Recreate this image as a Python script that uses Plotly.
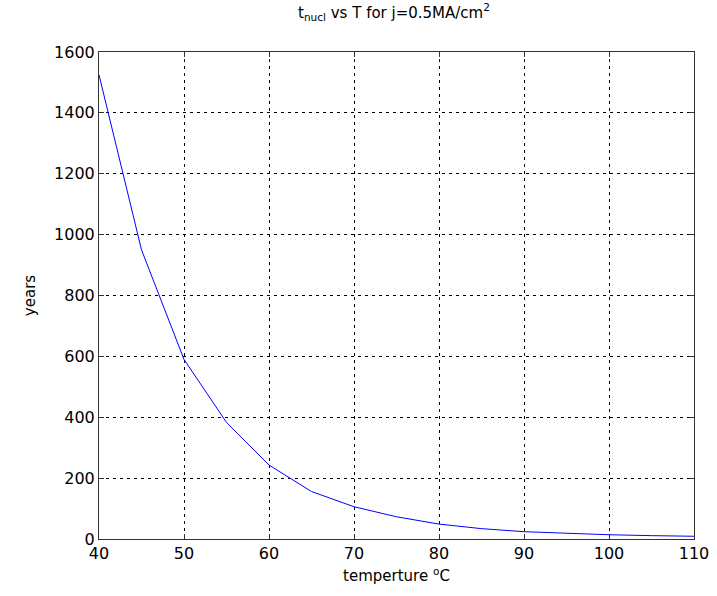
import plotly.graph_objects as go

temperature = [40, 45, 50, 55, 60, 65, 70, 75, 80, 85, 90, 95, 100, 105, 110]
years = [1525, 950, 590, 383, 243, 156, 106, 73, 49, 34, 24, 18, 14, 11, 9]

x_ticks = [40, 50, 60, 70, 80, 90, 100, 110]
y_ticks = [0, 200, 400, 600, 800, 1000, 1200, 1400, 1600]

FONT = "DejaVu Sans"
fig = go.Figure()
fig.add_trace(go.Scatter(x=temperature, y=years, mode="lines",
                         line=dict(color="#0000ff", width=1), showlegend=False))

axis_common = dict(
    showline=True, linecolor="#333333", linewidth=1, mirror="allticks",
    ticks="inside", ticklen=5, tickcolor="#333333",
    showgrid=True, gridcolor="#000000", gridwidth=1, griddash="3px,4px",
    zeroline=False, automargin=False,
    tickfont=dict(family=FONT, size=16, color="#000000"),
)

fig.update_layout(
    width=717, height=596,
    margin=dict(l=99, r=23, t=52, b=57),
    paper_bgcolor="white", plot_bgcolor="white",
    title=dict(text="t<sub>nucl</sub> vs T for j=0.5MA/cm<sup>2</sup>",
               x=394 / 717, xanchor="center", yref="container", y=1 - 7 / 596, yanchor="top",
               font=dict(family=FONT, size=15, color="#000000")),
    xaxis=dict(range=[40, 110], tickvals=x_ticks, ticktext=[str(v) for v in x_ticks],
               title=dict(text="temperture <sup>o</sup>C", standoff=8,
                          font=dict(family=FONT, size=15, color="#000000")),
               **axis_common),
    yaxis=dict(range=[0, 1600], tickvals=y_ticks, ticktext=[str(v) for v in y_ticks],
               title=dict(text="years", standoff=14,
                          font=dict(family=FONT, size=15, color="#000000")),
               **axis_common),
)

fig.write_html("out.html", config={"displayModeBar": False},
               post_script="document.body.style.margin='0';")
